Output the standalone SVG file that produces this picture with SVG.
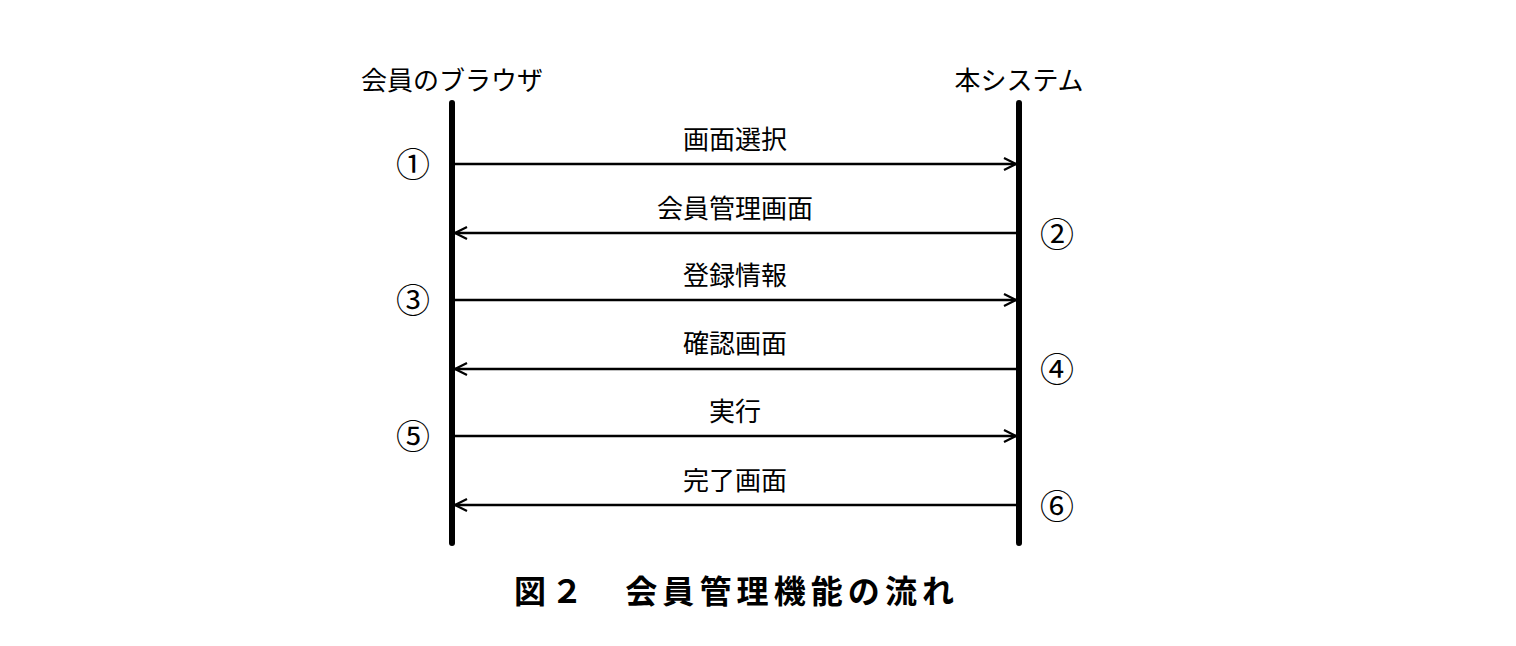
<svg xmlns="http://www.w3.org/2000/svg" width="1516" height="646" viewBox="0 0 1516 646">
<style>
text{font-family:"Noto Sans CJK JP",sans-serif;fill:#000}
.t{font-size:26px}
.n{font-size:34px;font-family:"Noto Sans CJK JP",serif}
.c{text-anchor:middle}
.life{stroke:#000;stroke-width:6;stroke-linecap:round}
.msg{stroke:#000;stroke-width:2.5;fill:none}
</style>
<defs>
<marker id="a" viewBox="0 0 14 14" refX="13" refY="7" markerWidth="14" markerHeight="14" markerUnits="userSpaceOnUse" orient="auto"><path d="M1,1 L13,7 L1,13" fill="none" stroke="#000" stroke-width="2.2"/></marker>
</defs>
<rect width="1516" height="646" fill="#fff"/>
<g id="browser"><text class="t c" x="452" y="90">会員のブラウザ</text><line class="life" x1="452" y1="103" x2="452" y2="543"/></g>
<g id="system"><text class="t c" x="1019" y="90">本システム</text><line class="life" x1="1019" y1="103" x2="1019" y2="543"/></g>
<g id="connectors">
<line class="msg" x1="455" y1="164" x2="1016" y2="164" marker-end="url(#a)"/>
<line class="msg" x1="1016" y1="233" x2="455" y2="233" marker-end="url(#a)"/>
<line class="msg" x1="455" y1="300" x2="1016" y2="300" marker-end="url(#a)"/>
<line class="msg" x1="1016" y1="369" x2="455" y2="369" marker-end="url(#a)"/>
<line class="msg" x1="455" y1="436" x2="1016" y2="436" marker-end="url(#a)"/>
<line class="msg" x1="1016" y1="505" x2="455" y2="505" marker-end="url(#a)"/>
<text class="t c" x="735" y="149">画面選択</text>
<text class="t c" x="735" y="218">会員管理画面</text>
<text class="t c" x="735" y="285">登録情報</text>
<text class="t c" x="735" y="353">確認画面</text>
<text class="t c" x="735" y="421">実行</text>
<text class="t c" x="735" y="490">完了画面</text>
</g>
<g id="nums">
<text class="n c" x="413" y="177">①</text>
<text class="n c" x="1057" y="247">②</text>
<text class="n c" x="413" y="313">③</text>
<text class="n c" x="1057" y="382">④</text>
<text class="n c" x="413" y="449">⑤</text>
<text class="n c" x="1057" y="519">⑥</text>
</g>
<text x="514" y="603" textLength="440" lengthAdjust="spacing" style="font-size:32px;font-weight:bold">図２　会員管理機能の流れ</text>
</svg>
